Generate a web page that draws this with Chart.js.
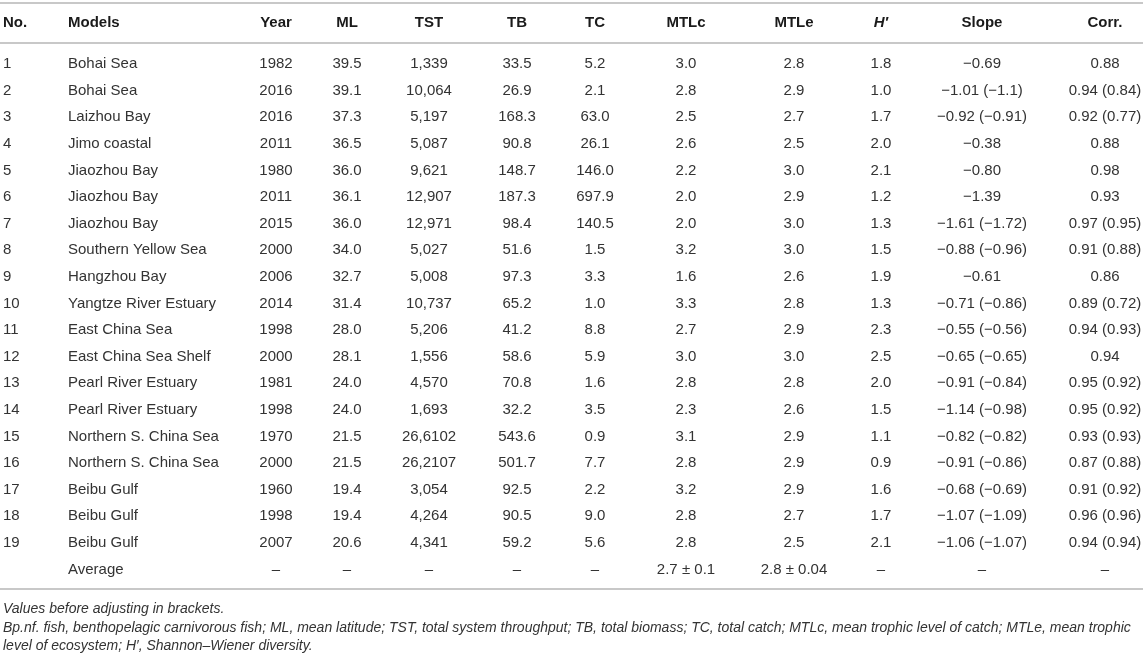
<!DOCTYPE html>
<html>
<head>
<meta charset="utf-8">
<title>Ecosystem models table</title>
<script src="https://cdn.jsdelivr.net/npm/chart.js@4.4.0/dist/chart.umd.min.js"></script>
<style>
    html, body { margin: 0; padding: 0; background: #ffffff; }
    #wrap { width: 1143px; height: 657px; position: relative; }
</style>
</head>
<body>
<div id="wrap"><canvas id="tableChart"></canvas></div>
<script>
// Table content
const headers = ['No.', 'Models', 'Year', 'ML', 'TST', 'TB', 'TC', 'MTLc', 'MTLe', 'H′', 'Slope', 'Corr.'];
const rowNo = ['1', '2', '3', '4', '5', '6', '7', '8', '9', '10', '11', '12', '13', '14', '15', '16', '17', '18', '19'];
const models = ['Bohai Sea', 'Bohai Sea', 'Laizhou Bay', 'Jimo coastal', 'Jiaozhou Bay', 'Jiaozhou Bay', 'Jiaozhou Bay',
    'Southern Yellow Sea', 'Hangzhou Bay', 'Yangtze River Estuary', 'East China Sea', 'East China Sea Shelf',
    'Pearl River Estuary', 'Pearl River Estuary', 'Northern S. China Sea', 'Northern S. China Sea',
    'Beibu Gulf', 'Beibu Gulf', 'Beibu Gulf'];
const years = ['1982', '2016', '2016', '2011', '1980', '2011', '2015', '2000', '2006', '2014', '1998', '2000', '1981', '1998', '1970', '2000', '1960', '1998', '2007'];
const ml = ['39.5', '39.1', '37.3', '36.5', '36.0', '36.1', '36.0', '34.0', '32.7', '31.4', '28.0', '28.1', '24.0', '24.0', '21.5', '21.5', '19.4', '19.4', '20.6'];
const tst = ['1,339', '10,064', '5,197', '5,087', '9,621', '12,907', '12,971', '5,027', '5,008', '10,737', '5,206', '1,556', '4,570', '1,693', '26,6102', '26,2107', '3,054', '4,264', '4,341'];
const tb = ['33.5', '26.9', '168.3', '90.8', '148.7', '187.3', '98.4', '51.6', '97.3', '65.2', '41.2', '58.6', '70.8', '32.2', '543.6', '501.7', '92.5', '90.5', '59.2'];
const tc = ['5.2', '2.1', '63.0', '26.1', '146.0', '697.9', '140.5', '1.5', '3.3', '1.0', '8.8', '5.9', '1.6', '3.5', '0.9', '7.7', '2.2', '9.0', '5.6'];
const mtlc = ['3.0', '2.8', '2.5', '2.6', '2.2', '2.0', '2.0', '3.2', '1.6', '3.3', '2.7', '3.0', '2.8', '2.3', '3.1', '2.8', '3.2', '2.8', '2.8'];
const mtle = ['2.8', '2.9', '2.7', '2.5', '3.0', '2.9', '3.0', '3.0', '2.6', '2.8', '2.9', '3.0', '2.8', '2.6', '2.9', '2.9', '2.9', '2.7', '2.5'];
const hDiv = ['1.8', '1.0', '1.7', '2.0', '2.1', '1.2', '1.3', '1.5', '1.9', '1.3', '2.3', '2.5', '2.0', '1.5', '1.1', '0.9', '1.6', '1.7', '2.1'];
const slope = ['−0.69', '−1.01 (−1.1)', '−0.92 (−0.91)', '−0.38', '−0.80', '−1.39', '−1.61 (−1.72)', '−0.88 (−0.96)', '−0.61',
    '−0.71 (−0.86)', '−0.55 (−0.56)', '−0.65 (−0.65)', '−0.91 (−0.84)', '−1.14 (−0.98)', '−0.82 (−0.82)', '−0.91 (−0.86)',
    '−0.68 (−0.69)', '−1.07 (−1.09)', '−1.06 (−1.07)'];
const corr = ['0.88', '0.94 (0.84)', '0.92 (0.77)', '0.88', '0.98', '0.93', '0.97 (0.95)', '0.91 (0.88)', '0.86', '0.89 (0.72)',
    '0.94 (0.93)', '0.94', '0.95 (0.92)', '0.95 (0.92)', '0.93 (0.93)', '0.87 (0.88)', '0.91 (0.92)', '0.96 (0.96)', '0.94 (0.94)'];
const averageRow = ['', 'Average', '–', '–', '–', '–', '–', '2.7 ± 0.1', '2.8 ± 0.04', '–', '–', '–'];
const footnotes = [
    'Values before adjusting in brackets.',
    'Bp.nf. fish, benthopelagic carnivorous fish; ML, mean latitude; TST, total system throughput; TB, total biomass; TC, total catch; MTLc, mean trophic level of catch; MTLe, mean trophic',
    'level of ecosystem; H′, Shannon–Wiener diversity.'
];

// Layout
const W = 1143, H = 657;
const colX = [3, 68, 276, 347, 429, 517, 595, 686, 794, 881, 982, 1105];
const colAlign = ['left', 'left', 'center', 'center', 'center', 'center', 'center', 'center', 'center', 'center', 'center', 'center'];
const firstRowY = 64, rowPitch = 26.6;
const toRow = px => 1 + (px - firstRowY) / rowPitch;
const headerRow = toRow(23);
const ruleRows = [toRow(3), toRow(43), toRow(589)];
const footRows = [toRow(609), toRow(628), toRow(646)];

const columns = [rowNo, models, years, ml, tst, tb, tc, mtlc, mtle, hDiv, slope, corr];

const datasets = columns.map((values, c) => {
    const pts = [{ x: colX[c], y: headerRow, t: headers[c], head: true }];
    values.forEach((v, i) => pts.push({ x: colX[c], y: i + 1, t: v }));
    pts.push({ x: colX[c], y: values.length + 1, t: averageRow[c] });
    return { label: headers[c], data: pts, pointRadius: 0, showLine: false };
});

const tablePlugin = {
    id: 'tableText',
    beforeDatasetsDraw(chart) {
        const ctx = chart.ctx;
        const ys = chart.scales.y;
        ctx.save();
        ctx.strokeStyle = '#c8c8c8';
        ctx.lineWidth = 2;
        ruleRows.forEach(r => {
            const y = ys.getPixelForValue(r);
            ctx.beginPath();
            ctx.moveTo(0, y);
            ctx.lineTo(W, y);
            ctx.stroke();
        });
        ctx.restore();
    },
    afterDatasetsDraw(chart) {
        const ctx = chart.ctx;
        ctx.save();
        ctx.textBaseline = 'middle';
        chart.data.datasets.forEach((ds, c) => {
            const meta = chart.getDatasetMeta(c);
            ctx.textAlign = colAlign[c];
            meta.data.forEach((el, j) => {
                const p = ds.data[j];
                if (p.head) {
                    ctx.fillStyle = '#1a1a1a';
                    ctx.font = (headers[c] === 'H′' ? 'italic ' : '') + 'bold 15px "Liberation Sans", Arial, sans-serif';
                } else {
                    ctx.fillStyle = '#333333';
                    ctx.font = '15px "Liberation Sans", Arial, sans-serif';
                }
                ctx.fillText(p.t, el.x, el.y);
            });
        });
        // notes under the table
        ctx.textAlign = 'left';
        ctx.fillStyle = '#333333';
        ctx.font = 'italic 14px "Liberation Sans", Arial, sans-serif';
        footnotes.forEach((line, i) => {
            ctx.fillText(line, chart.scales.x.getPixelForValue(3), chart.scales.y.getPixelForValue(footRows[i]));
        });
        ctx.restore();
    }
};

const tableChart = new Chart(document.getElementById('tableChart').getContext('2d'), {
    type: 'scatter',
    data: { datasets: datasets },
    options: {
        responsive: true,
        maintainAspectRatio: false,
        animation: false,
        events: [],
        layout: { padding: 0 },
        plugins: { legend: { display: false }, tooltip: { enabled: false } },
        scales: {
            x: { type: 'linear', display: false, min: 0, max: W },
            y: { type: 'linear', display: false, reverse: true, min: toRow(0), max: toRow(H) }
        }
    },
    plugins: [tablePlugin]
});
</script>
</body>
</html>
